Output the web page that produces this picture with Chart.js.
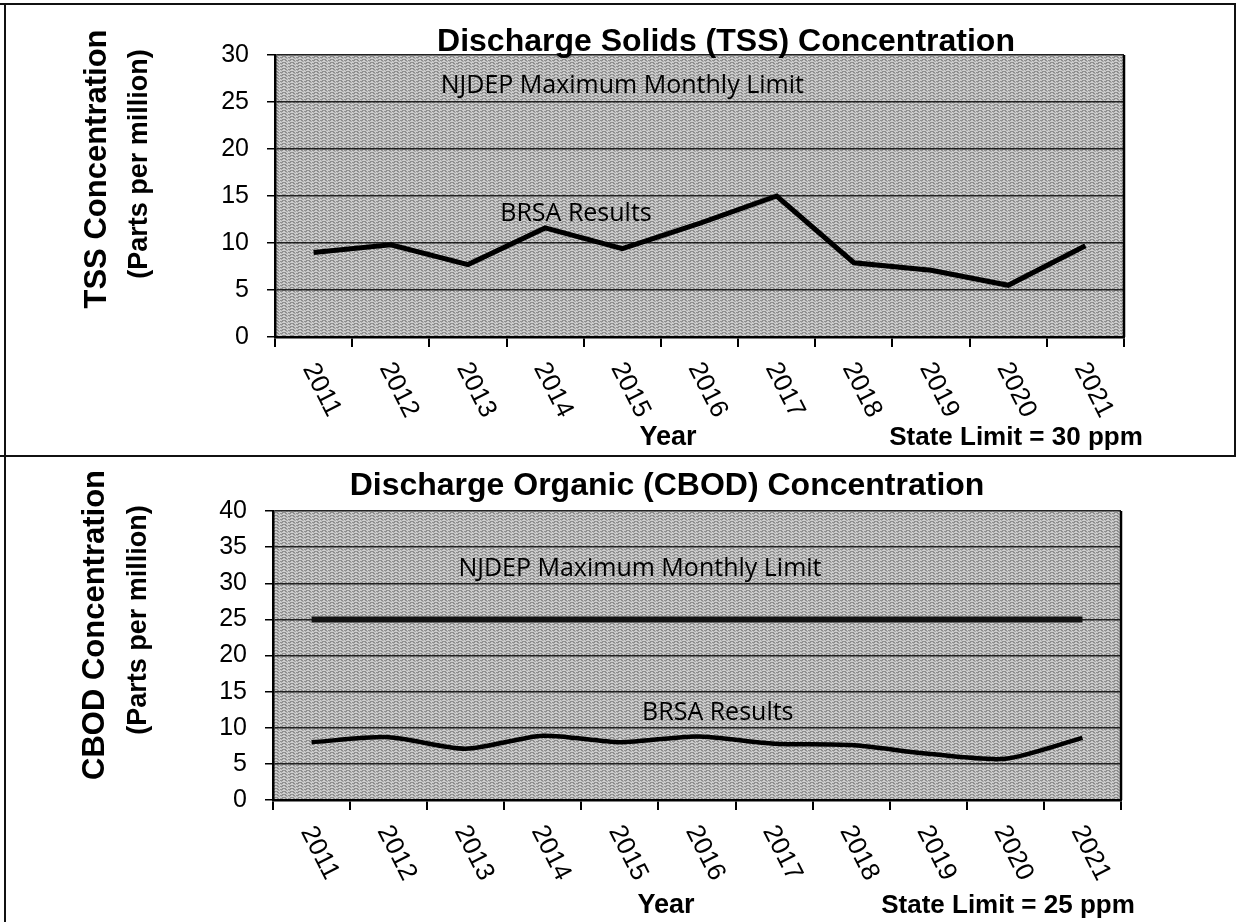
<!DOCTYPE html>
<html>
<head>
<meta charset="utf-8">
<script src="https://cdn.jsdelivr.net/npm/chart.js@4.4.1/dist/chart.umd.min.js"></script>
<style>
  body { margin: 0; background: #fff; }
  #page { position: relative; width: 1236px; height: 922px; overflow: hidden; background: #fff; }
  canvas { position: absolute; left: 0; }
  #tssChart { top: 0; }
  #cbodChart { top: 456px; }
  .rule { position: absolute; background: #111; }
  .txt { position: absolute; white-space: nowrap; transform: translate(-50%, -50%); color: #000;
         font-family: "Liberation Sans", Arial, sans-serif; font-weight: bold; }
  .ttl { font-size: 32px; }
  .foot { font-size: 26px; }
  .ytl { font-size: 31px; transform: translate(-50%, -50%) rotate(-90deg); }
  .ysub { font-size: 27px; transform: translate(-50%, -50%) rotate(-90deg); }
</style>
</head>
<body>
<div id="page">
  <canvas id="tssChart" width="1236" height="456"></canvas>
  <canvas id="cbodChart" width="1236" height="466"></canvas>

  <!-- page frame -->
  <div class="rule" style="left:0;top:3px;width:1236px;height:2px"></div>
  <div class="rule" style="left:4px;top:3px;width:2px;height:919px"></div>
  <div class="rule" style="left:0;top:455px;width:1236px;height:2px"></div>
  <div class="rule" style="left:1234px;top:3px;width:2px;height:454px"></div>

  <div class="txt ttl" style="left:726px;top:40px">Discharge Solids (TSS) Concentration</div>
  <div class="txt ytl" style="left:96px;top:169px">TSS Concentration</div>
  <div class="txt ysub" style="left:138px;top:164px">(Parts per million)</div>
  <div class="txt foot" style="left:668px;top:436px;font-size:27px">Year</div>
  <div class="txt foot" style="left:1016px;top:436px">State Limit = 30 ppm</div>

  <div class="txt ttl" style="left:667px;top:484px">Discharge Organic (CBOD) Concentration</div>
  <div class="txt ytl" style="left:94px;top:625px">CBOD Concentration</div>
  <div class="txt ysub" style="left:137px;top:620px">(Parts per million)</div>
  <div class="txt foot" style="left:666px;top:904px;font-size:27px">Year</div>
  <div class="txt foot" style="left:1008px;top:904px">State Limit = 25 ppm</div>
</div>

<script>
// values
const years = ["2011", "2012", "2013", "2014", "2015", "2016", "2017", "2018", "2019", "2020", "2021"];
const tssResults = [9.0, 9.8, 7.7, 11.6, 9.4, 12.1, 15.0, 7.9, 7.1, 5.5, 9.7];
const cbodResults = [8.0, 8.7, 7.1, 8.9, 8.0, 8.8, 7.8, 7.6, 6.4, 5.7, 8.6];
const cbodLimit = [25, 25, 25, 25, 25, 25, 25, 25, 25, 25, 25];
const tssAxisMax = 30;
const cbodAxisMax = 40;
const tickStep = 5;

Chart.defaults.font.family = "'Liberation Sans', Arial, sans-serif";
Chart.defaults.color = "#000";

// small streaky tile to stand in for the scanner halftone
function scanTile(){
  const c = document.createElement("canvas");
  c.width = 8; c.height = 3;
  const g = c.getContext("2d");
  g.fillStyle = "#cdcdcd"; g.fillRect(0, 0, 8, 3);
  g.fillStyle = "#8f8f8f";
  g.fillRect(0, 0, 3, 1); g.fillRect(5, 0, 2, 1);
  g.fillRect(2, 2, 4, 1);
  g.fillStyle = "#a9a9a9";
  g.fillRect(6, 1, 2, 1); g.fillRect(1, 1, 1, 1);
  return c;
}

// grey plot background like the scan
const plotBg = {
  id: "plotBg",
  beforeDraw(chart){
    const {ctx, chartArea:a} = chart;
    ctx.save();
    ctx.fillStyle = ctx.createPattern(scanTile(), "repeat");
    ctx.fillRect(a.left, a.top, a.right - a.left, a.bottom - a.top);
    ctx.restore();
  },
  afterDraw(chart){
    const {ctx, chartArea:a} = chart;
    ctx.save();
    ctx.strokeStyle = "#000";
    ctx.lineWidth = 2.5;
    ctx.beginPath();
    ctx.moveTo(a.right, a.top);
    ctx.lineTo(a.right, a.bottom);
    ctx.stroke();
    ctx.restore();
  }
};

// year labels slant down to the right, which chart.js ticks can't do
const yearLabels = {
  id: "yearLabels",
  afterDraw(chart){
    const {ctx, chartArea:a} = chart;
    const xs = chart.scales.x;
    ctx.save();
    ctx.fillStyle = "#000";
    ctx.font = "26px 'Liberation Sans', Arial, sans-serif";
    ctx.textAlign = "center";
    ctx.textBaseline = "middle";
    xs.getLabels().forEach((lab, i)=>{
      ctx.save();
      ctx.translate(xs.getPixelForValue(i) + 8, a.bottom + 53);
      ctx.rotate(63 * Math.PI / 180);
      ctx.fillText(lab, 0, 0);
      ctx.restore();
    });
    ctx.restore();
  }
};

// in-plot captions placed in data space
const notes = {
  id: "notes",
  afterDatasetsDraw(chart, args, opts){
    const {ctx} = chart;
    const xs = chart.scales.x, ys = chart.scales.y;
    ctx.save();
    ctx.fillStyle = "#000";
    ctx.font = "25px 'Open Sans', sans-serif";
    ctx.textAlign = "center";
    ctx.textBaseline = "middle";
    (opts.items || []).forEach(n=>{
      ctx.fillText(n.text, xs.getPixelForValue(n.at), ys.getPixelForValue(n.value));
    });
    ctx.restore();
  }
};

function makeChart(id, datasets, yMax, items, pad){
  return new Chart(document.getElementById(id), {
    type: "line",
    data: { labels: years, datasets: datasets },
    options: {
      responsive: false,
      animation: false,
      layout: { padding: pad },
      plugins: { legend: { display: false }, tooltip: { enabled: false }, notes: { items: items } },
      scales: {
        x: {
          type: "category",
          offset: true,
          grid: { offset: true, drawOnChartArea: false, tickLength: 10, color: "#000", lineWidth: 2 },
          ticks: { display: false },
          border: { color: "#000", width: 2.5 },
          afterFit(s){ s.height = 10; }
        },
        y: {
          min: 0, max: yMax,
          ticks: { stepSize: tickStep, color: "#000", font: { size: 25 }, padding: 18 },
          grid: { color: "#222", lineWidth: 1.5, tickLength: 8, tickColor: "#000" },
          border: { color: "#000", width: 2.5 },
          afterFit(s){ s.width = 60; }
        }
      }
    },
    plugins: [plotBg, yearLabels, notes]
  });
}

makeChart("tssChart",
  [{ data: tssResults, borderColor: "#000", borderWidth: 5, pointRadius: 0, tension: 0, fill: false }],
  tssAxisMax,
  [{ text: "NJDEP Maximum Monthly Limit", at: 4.0, value: 26.7 },
   { text: "BRSA Results", at: 3.4, value: 13.1 }],
  { left: 215, top: 55, right: 112, bottom: 109 });

makeChart("cbodChart",
  [{ data: cbodLimit, borderColor: "#111", borderWidth: 6, pointRadius: 0, tension: 0, fill: false },
   { data: cbodResults, borderColor: "#000", borderWidth: 4.5, pointRadius: 0, tension: 0.25, fill: false }],
  cbodAxisMax,
  [{ text: "NJDEP Maximum Monthly Limit", at: 4.26, value: 32 },
   { text: "BRSA Results", at: 5.27, value: 12 }],
  { left: 213, top: 55, right: 115, bottom: 112 });
</script>
</body>
</html>
